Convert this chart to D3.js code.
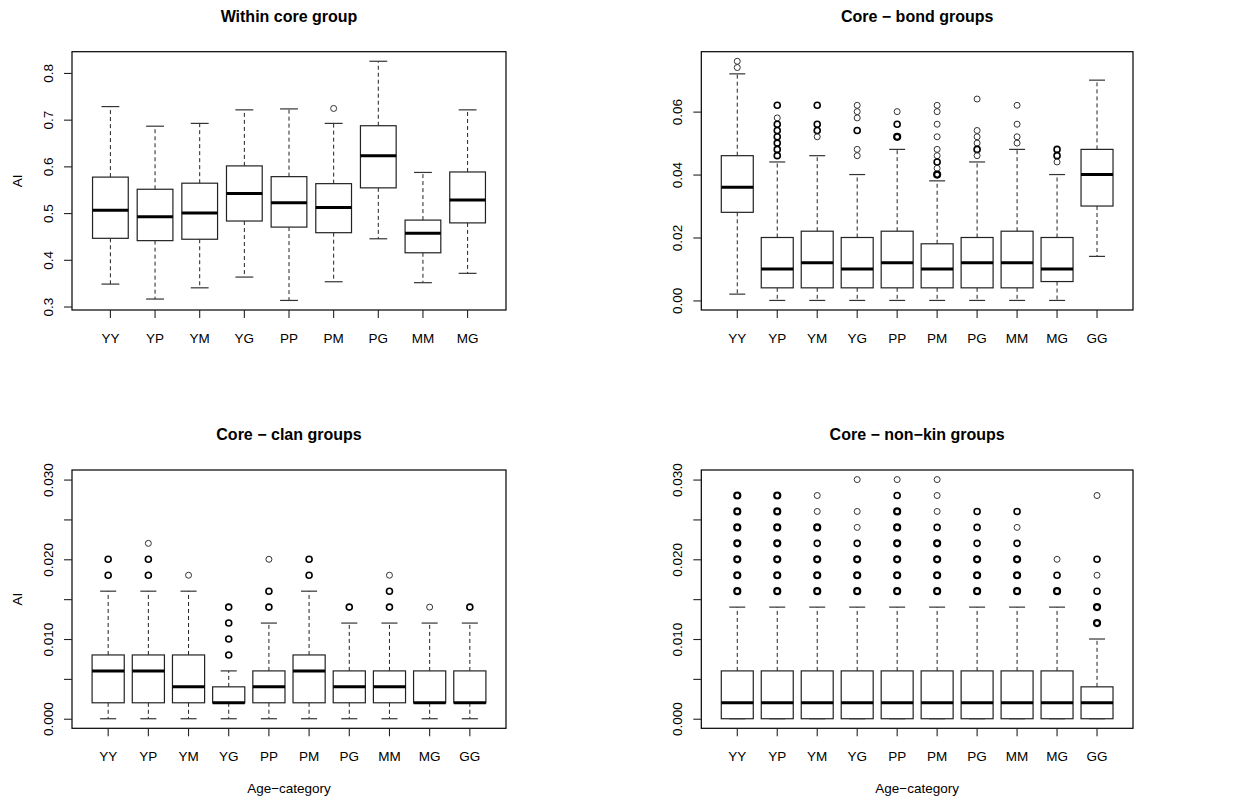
<!DOCTYPE html>
<html>
<head>
<meta charset="utf-8">
<script src="https://cdn.jsdelivr.net/npm/d3@7"></script>
<style>
  html, body { margin: 0; padding: 0; background: #fff; }
  svg { display: block; }
  text { font-family: "Liberation Sans", Arial, Helvetica, sans-serif; fill: #000; }
</style>
</head>
<body>
<svg id="chart" width="1233" height="801"></svg>
<script>
// ---------------- DATA ----------------
const cats9  = ["YY", "YP", "YM", "YG", "PP", "PM", "PG", "MM", "MG"];
const cats10 = ["YY", "YP", "YM", "YG", "PP", "PM", "PG", "MM", "MG", "GG"];

// each row: [lower whisker, Q1, median, Q3, upper whisker]
const withinStats = [
  [0.348, 0.446, 0.506, 0.577, 0.728],
  [0.316, 0.441, 0.492, 0.551, 0.686],
  [0.340, 0.444, 0.500, 0.564, 0.692],
  [0.363, 0.483, 0.542, 0.601, 0.721],
  [0.313, 0.470, 0.522, 0.578, 0.723],
  [0.353, 0.458, 0.512, 0.563, 0.692],
  [0.445, 0.554, 0.623, 0.687, 0.825],
  [0.351, 0.415, 0.457, 0.485, 0.587],
  [0.371, 0.479, 0.528, 0.588, 0.721]
];
const withinOutliers = [[], [], [], [], [], [0.724], [], [], []];

const bondStats = [
  [0.002, 0.028, 0.036, 0.046, 0.072],
  [0.000, 0.004, 0.010, 0.020, 0.044],
  [0.000, 0.004, 0.012, 0.022, 0.046],
  [0.000, 0.004, 0.010, 0.020, 0.040],
  [0.000, 0.004, 0.012, 0.022, 0.048],
  [0.000, 0.004, 0.010, 0.018, 0.038],
  [0.000, 0.004, 0.012, 0.020, 0.044],
  [0.000, 0.004, 0.012, 0.022, 0.048],
  [0.000, 0.006, 0.010, 0.020, 0.040],
  [0.014, 0.030, 0.040, 0.048, 0.070]
];
// repeated values = overplotted (bolder) outliers
const bondOutliers = [
  [0.074, 0.076],
  [0.062, 0.062, 0.058, 0.056, 0.056, 0.054, 0.054, 0.052, 0.052, 0.050, 0.050, 0.048, 0.048, 0.046, 0.046],
  [0.062, 0.062, 0.056, 0.056, 0.054, 0.054, 0.052],
  [0.062, 0.060, 0.058, 0.054, 0.054, 0.048, 0.046],
  [0.060, 0.056, 0.056, 0.052, 0.052, 0.052],
  [0.062, 0.060, 0.056, 0.052, 0.048, 0.046, 0.044, 0.044, 0.042, 0.040, 0.040, 0.040],
  [0.064, 0.054, 0.052, 0.050, 0.048, 0.048, 0.046],
  [0.062, 0.056, 0.052, 0.050],
  [0.048, 0.048, 0.046, 0.046, 0.044],
  []
];

const clanStats = [
  [0.000, 0.002, 0.006, 0.008, 0.016],
  [0.000, 0.002, 0.006, 0.008, 0.016],
  [0.000, 0.002, 0.004, 0.008, 0.016],
  [0.000, 0.002, 0.002, 0.004, 0.006],
  [0.000, 0.002, 0.004, 0.006, 0.012],
  [0.000, 0.002, 0.006, 0.008, 0.016],
  [0.000, 0.002, 0.004, 0.006, 0.012],
  [0.000, 0.002, 0.004, 0.006, 0.012],
  [0.000, 0.002, 0.002, 0.006, 0.012],
  [0.000, 0.002, 0.002, 0.006, 0.012]
];
const clanOutliers = [
  [0.018, 0.018, 0.020, 0.020],
  [0.018, 0.018, 0.020, 0.020, 0.022],
  [0.018],
  [0.008, 0.008, 0.010, 0.010, 0.012, 0.012, 0.014, 0.014],
  [0.014, 0.014, 0.016, 0.016, 0.020],
  [0.018, 0.018, 0.020, 0.020],
  [0.014, 0.014],
  [0.014, 0.014, 0.016, 0.016, 0.018],
  [0.014],
  [0.014, 0.014]
];

const nonkinStats = [
  [0.000, 0.000, 0.002, 0.006, 0.014],
  [0.000, 0.000, 0.002, 0.006, 0.014],
  [0.000, 0.000, 0.002, 0.006, 0.014],
  [0.000, 0.000, 0.002, 0.006, 0.014],
  [0.000, 0.000, 0.002, 0.006, 0.014],
  [0.000, 0.000, 0.002, 0.006, 0.014],
  [0.000, 0.000, 0.002, 0.006, 0.014],
  [0.000, 0.000, 0.002, 0.006, 0.014],
  [0.000, 0.000, 0.002, 0.006, 0.014],
  [0.000, 0.000, 0.002, 0.004, 0.010]
];
const nonkinOutliers = [
  [0.016, 0.016, 0.016, 0.018, 0.018, 0.018, 0.020, 0.020, 0.020, 0.022, 0.022, 0.022, 0.024, 0.024, 0.024, 0.026, 0.026, 0.026, 0.028, 0.028, 0.028],
  [0.016, 0.016, 0.016, 0.018, 0.018, 0.018, 0.020, 0.020, 0.020, 0.022, 0.022, 0.022, 0.024, 0.024, 0.024, 0.026, 0.026, 0.026, 0.028, 0.028, 0.028],
  [0.016, 0.016, 0.016, 0.018, 0.018, 0.018, 0.020, 0.020, 0.020, 0.022, 0.022, 0.024, 0.024, 0.024, 0.026, 0.028],
  [0.016, 0.016, 0.016, 0.018, 0.018, 0.018, 0.020, 0.020, 0.020, 0.022, 0.022, 0.024, 0.026, 0.030],
  [0.016, 0.016, 0.016, 0.018, 0.018, 0.018, 0.020, 0.020, 0.020, 0.022, 0.022, 0.022, 0.024, 0.024, 0.024, 0.026, 0.026, 0.026, 0.028, 0.028, 0.030],
  [0.016, 0.016, 0.016, 0.018, 0.018, 0.018, 0.020, 0.020, 0.020, 0.022, 0.022, 0.022, 0.024, 0.024, 0.026, 0.028, 0.030],
  [0.016, 0.016, 0.016, 0.018, 0.018, 0.018, 0.020, 0.020, 0.020, 0.022, 0.022, 0.024, 0.024, 0.026, 0.026],
  [0.016, 0.016, 0.016, 0.018, 0.018, 0.018, 0.020, 0.020, 0.020, 0.022, 0.022, 0.024, 0.026, 0.026],
  [0.016, 0.016, 0.016, 0.018, 0.018, 0.020],
  [0.012, 0.012, 0.012, 0.014, 0.014, 0.014, 0.016, 0.016, 0.018, 0.020, 0.020, 0.028]
];

const titles = ["Within core group", "Core \u2212 bond groups", "Core \u2212 clan groups", "Core \u2212 non\u2212kin groups"];
const yTicksWithin = [0.3, 0.4, 0.5, 0.6, 0.7, 0.8];
const yTicksBond   = [0.00, 0.02, 0.04, 0.06];
const yTicksSmall  = [0.000, 0.005, 0.010, 0.015, 0.020, 0.025, 0.030];
const yLabelsSmall = [0.000, 0.010, 0.020, 0.030];
const yAxisTitle = "AI";
const xAxisTitle = "Age\u2212category";

// ---------------- LAYOUT ----------------
const svg = d3.select("#chart");
const FONT = '"Liberation Sans", Arial, Helvetica, sans-serif';
const LABEL_SIZE = "13.5px";

const panels = [
  { cats: cats9,  stats: withinStats, outs: withinOutliers, title: titles[0],
    l: 72, r: 506, t: 51.7, b: 310, ylim: null, ticks: yTicksWithin,
    fmt: d => d3.format(".1f")(d), ylab: true, xlab: false },
  { cats: cats10, stats: bondStats, outs: bondOutliers, title: titles[1],
    l: 701.3, r: 1133, t: 51.7, b: 310, ylim: null, ticks: yTicksBond,
    fmt: d => d3.format(".2f")(d), ylab: false, xlab: false },
  { cats: cats10, stats: clanStats, outs: clanOutliers, title: titles[2],
    l: 72, r: 506, t: 470, b: 728.3, ylim: [0, 0.03], ticks: yTicksSmall,
    fmt: d => yLabelsSmall.some(v => Math.abs(v - d) < 1e-9) ? d3.format(".3f")(d) : "", ylab: true, xlab: true },
  { cats: cats10, stats: nonkinStats, outs: nonkinOutliers, title: titles[3],
    l: 701.3, r: 1133, t: 470, b: 728.3, ylim: [0, 0.03], ticks: yTicksSmall,
    fmt: d => yLabelsSmall.some(v => Math.abs(v - d) < 1e-9) ? d3.format(".3f")(d) : "", ylab: false, xlab: true }
];

panels.forEach(p => {
  const g = svg.append("g");
  const n = p.cats.length;

  // y domain (R style: 4% extension)
  let lo, hi;
  if (p.ylim) { [lo, hi] = p.ylim; }
  else {
    const all = p.stats.flat().concat(p.outs.flat());
    lo = d3.min(all); hi = d3.max(all);
  }
  const pad = 0.04 * (hi - lo);
  const y = d3.scaleLinear().domain([lo - pad, hi + pad]).range([p.b, p.t]);

  // x band scale replicating R's boxplot placement
  const x = d3.scaleBand().domain(p.cats).range([p.l, p.r])
    .paddingInner(0.2).paddingOuter(0.04 * n + 0.1);
  const bw = x.bandwidth();
  const cx = c => x(c) + bw / 2;

  p.cats.forEach((c, i) => {
    const [wl, q1, md, q3, wh] = p.stats[i];
    const xc = cx(c);
    const bx = g.append("g");
    bx.append("line").attr("x1", xc).attr("x2", xc).attr("y1", y(q3)).attr("y2", y(wh))
      .attr("stroke", "#222").attr("stroke-width", 1).attr("stroke-dasharray", "4,3");
    bx.append("line").attr("x1", xc).attr("x2", xc).attr("y1", y(q1)).attr("y2", y(wl))
      .attr("stroke", "#222").attr("stroke-width", 1).attr("stroke-dasharray", "4,3");
    [wl, wh].forEach(v => {
      bx.append("line").attr("x1", xc - bw / 4).attr("x2", xc + bw / 4)
        .attr("y1", y(v)).attr("y2", y(v)).attr("stroke", "#333").attr("stroke-width", 1.2);
    });
    bx.append("rect").attr("x", x(c)).attr("y", y(q3)).attr("width", bw)
      .attr("height", Math.max(0, y(q1) - y(q3)))
      .attr("fill", "#fff").attr("stroke", "#222").attr("stroke-width", 1.2);
    bx.append("line").attr("x1", x(c)).attr("x2", x(c) + bw).attr("y1", y(md)).attr("y2", y(md))
      .attr("stroke", "#000").attr("stroke-width", 3);
    const counts = d3.rollups(p.outs[i], v => v.length, v => v);
    counts.forEach(([v, k]) => {
      bx.append("circle").attr("cx", xc).attr("cy", y(v)).attr("r", 3)
        .attr("fill", "none").attr("stroke", k > 1 ? "#000" : "#333")
        .attr("stroke-width", Math.min(1 + 0.6 * (k - 1), 2.2));
    });
  });

  g.append("rect").attr("x", p.l).attr("y", p.t).attr("width", p.r - p.l).attr("height", p.b - p.t)
    .attr("fill", "none").attr("stroke", "#000").attr("stroke-width", 1.2);

  const ya = g.append("g").attr("transform", `translate(${p.l},0)`)
    .call(d3.axisLeft(y).tickValues(p.ticks).tickFormat(p.fmt).tickSize(8).tickSizeOuter(0));
  ya.select(".domain").remove();
  ya.selectAll(".tick line").attr("stroke", "#222").attr("stroke-width", 1.1);
  ya.selectAll(".tick text")
    .attr("x", null).attr("dy", null)
    .attr("transform", "translate(-19.5,0) rotate(-90)")
    .attr("text-anchor", "middle")
    .style("font-size", LABEL_SIZE).style("font-family", FONT)
    .attr("fill", "#000");

  const xa = g.append("g").attr("transform", `translate(0,${p.b})`)
    .call(d3.axisBottom(x).tickSize(8).tickSizeOuter(0));
  xa.select(".domain").remove();
  xa.selectAll(".tick line").attr("stroke", "#222").attr("stroke-width", 1.1);
  xa.selectAll(".tick text")
    .attr("y", 33).attr("dy", null)
    .style("font-size", LABEL_SIZE).style("font-family", FONT)
    .attr("fill", "#000");

  g.append("text").attr("x", (p.l + p.r) / 2).attr("y", p.t - 30)
    .attr("text-anchor", "middle").style("font-size", "16px").style("font-weight", "bold")
    .text(p.title);

  if (p.ylab) {
    g.append("text").attr("transform", `translate(21.5,${(p.t + p.b) / 2}) rotate(-90)`)
      .attr("text-anchor", "middle").style("font-size", LABEL_SIZE).text(yAxisTitle);
  }
  if (p.xlab) {
    g.append("text").attr("x", (p.l + p.r) / 2).attr("y", p.b + 65)
      .attr("text-anchor", "middle").style("font-size", LABEL_SIZE).text(xAxisTitle);
  }
});
</script>
</body>
</html>
